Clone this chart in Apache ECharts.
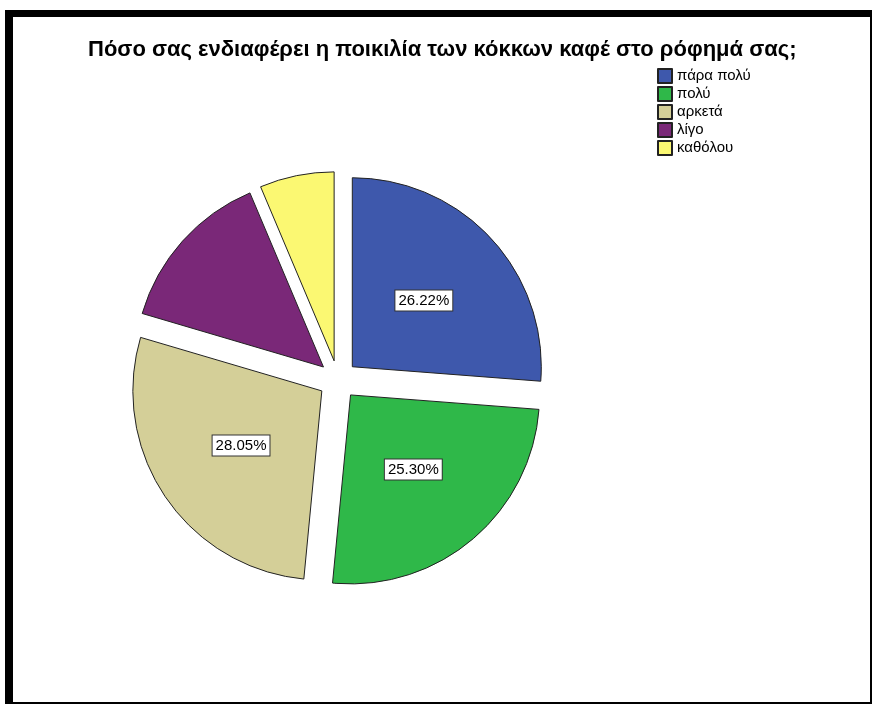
<!DOCTYPE html>
<html>
<head>
<meta charset="utf-8">
<script src="https://cdn.jsdelivr.net/npm/echarts@6/dist/echarts.min.js"></script>
<style>
  html, body { margin: 0; padding: 0; background: #fff; }
  #chart { position: absolute; left: 0; top: 0; width: 873px; height: 706px; }
  #frame {
    position: absolute; left: 5px; top: 10px; width: 867px; height: 694px;
    box-sizing: border-box; pointer-events: none;
    border-left: 8px solid #000; border-top: 7px solid #000;
    border-right: 2px solid #000; border-bottom: 2px solid #000;
  }
</style>
</head>
<body>
<div id="chart"></div>
<div id="frame"></div>
<script>
// Survey answers and their shares (%)
const categories = ['πάρα πολύ', 'πολύ', 'αρκετά', 'λίγο', 'καθόλου'];
const percentages = [26.22, 25.30, 28.05, 14.07, 6.36];
const showLabel = [true, true, true, false, false];
const colors = ['#3e58ac', '#2fb849', '#d4cf98', '#7a2878', '#fbf872'];

const FONT = '"Liberation Sans", Arial, sans-serif';

const pieData = categories.map((name, i) => ({
  name: name,
  value: percentages[i],
  selected: true,
  itemStyle: { color: colors[i] },
  label: { show: showLabel[i] }
}));

const chart = echarts.init(document.getElementById('chart'), null, { renderer: 'canvas' });
chart.setOption({
  animation: false,
  backgroundColor: '#fff',
  title: {
    text: 'Πόσο σας ενδιαφέρει η ποικιλία των κόκκων καφέ στο ρόφημά σας;',
    left: 83,
    top: 34,
    textStyle: { fontFamily: FONT, fontSize: 22, fontWeight: 'bold', color: '#000' }
  },
  legend: {
    orient: 'vertical',
    left: 657,
    top: 68,
    padding: 0,
    itemWidth: 14,
    itemHeight: 14,
    itemGap: 2,
    icon: 'rect',
    selectedMode: false,
    data: categories,
    textStyle: { fontFamily: FONT, fontSize: 15, lineHeight: 16, color: '#000' }
  },
  series: [{
    type: 'pie',
    center: [338, 380],
    radius: 189,
    startAngle: 90,
    clockwise: true,
    selectedMode: 'multiple',
    selectedOffset: 19.5,
    avoidLabelOverlap: false,
    emphasis: { disabled: true },
    itemStyle: { borderColor: '#222', borderWidth: 1 },
    label: {
      position: 'inside',
      formatter: p => p.value.toFixed(2) + '%',
      fontFamily: FONT,
      fontSize: 15,
      color: '#000',
      backgroundColor: '#fff',
      borderColor: '#333',
      borderWidth: 1,
      padding: [3, 3, 2, 3]
    },
    labelLine: { show: false },
    data: pieData
  }]
});
</script>
</body>
</html>
